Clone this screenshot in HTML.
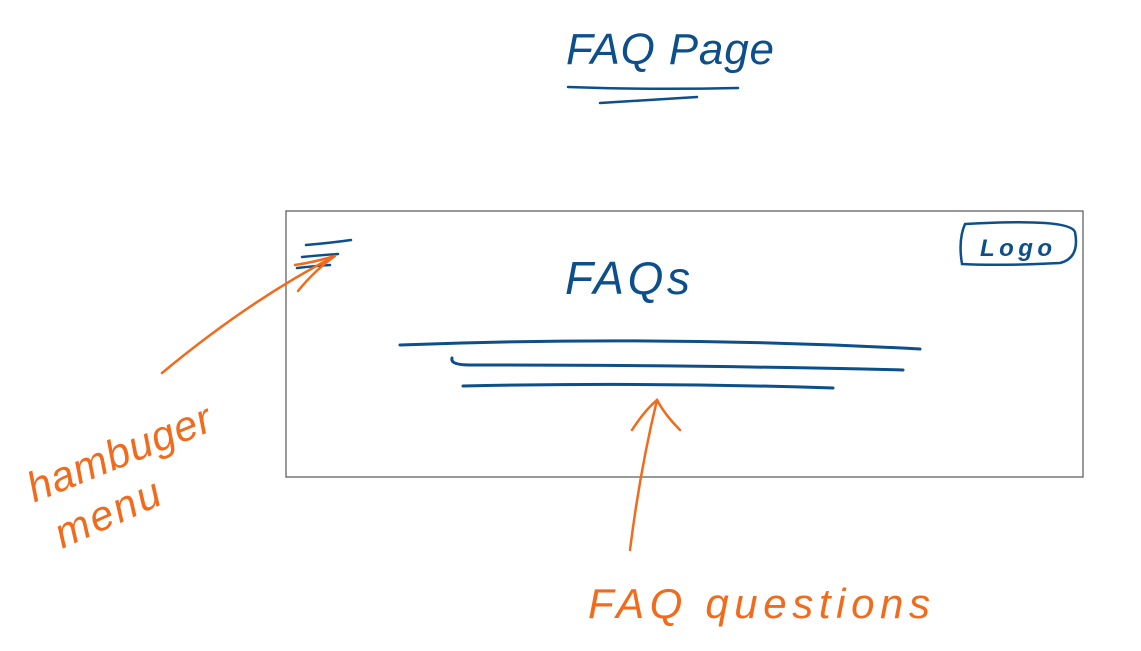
<!DOCTYPE html>
<html><head><meta charset="utf-8"><style>
html,body{margin:0;padding:0;background:#fff;width:1141px;height:651px;overflow:hidden}
svg text{font-family:"Liberation Sans",sans-serif;font-style:italic}
</style></head><body>
<svg width="1141" height="651" viewBox="0 0 1141 651">
<g fill="none" stroke-linecap="round">
<text x="566" y="64" font-size="44" fill="#0d4f8b" textLength="208">FAQ Page</text>
<path d="M568 87 Q650 90 738 88" stroke="#0d4f8b" stroke-width="2.5"/>
<path d="M600 103 Q650 100 697 97" stroke="#0d4f8b" stroke-width="2.5"/>
<rect x="286" y="211" width="797" height="266" stroke="#555" stroke-width="1.2"/>
<g stroke="#0d4f8b" stroke-width="2.5">
<path d="M306 245 Q330 243 351 240"/><path d="M302 257 Q322 255 338 254"/><path d="M297 268 Q315 266 330 265"/>
</g>
<text x="565" y="294" font-size="46" fill="#0d4f8b" textLength="125">FAQs</text>
<path d="M400 345 Q660 335 920 349" stroke="#0d4f8b" stroke-width="3"/>
<path d="M452 358 Q450 365 470 365 Q700 365 903 370" stroke="#0d4f8b" stroke-width="3"/>
<path d="M463 386 Q650 382 833 388" stroke="#0d4f8b" stroke-width="3"/>
<path d="M965 224 Q1070 218 1075 232 Q1080 258 1060 263 Q1000 266 962 264 Q958 240 965 224" stroke="#0d4f8b" stroke-width="2.5"/>
<text x="980" y="256" font-size="24" font-weight="bold" fill="#0d4f8b" textLength="72">Logo</text>
<g stroke="#f26a1b" stroke-width="2.5">
<path d="M162 373 Q250 300 335 256"/><path d="M298 291 Q315 270 335 256 Q315 262 295 265"/>
</g>
<text x="18" y="470" font-size="42" fill="#f26a1b" textLength="195" transform="rotate(-22 110 445)">hambuger</text>
<text x="50" y="528" font-size="42" fill="#f26a1b" textLength="112" transform="rotate(-24 105 510)">menu</text>
<g stroke="#f26a1b" stroke-width="2.5">
<path d="M630 550 Q640 470 657 400"/><path d="M632 430 Q645 410 657 400 Q665 415 680 430"/>
</g>
<text x="588" y="618" font-size="42" fill="#f26a1b" textLength="342">FAQ questions</text>
</g>
</svg>
</body></html>
